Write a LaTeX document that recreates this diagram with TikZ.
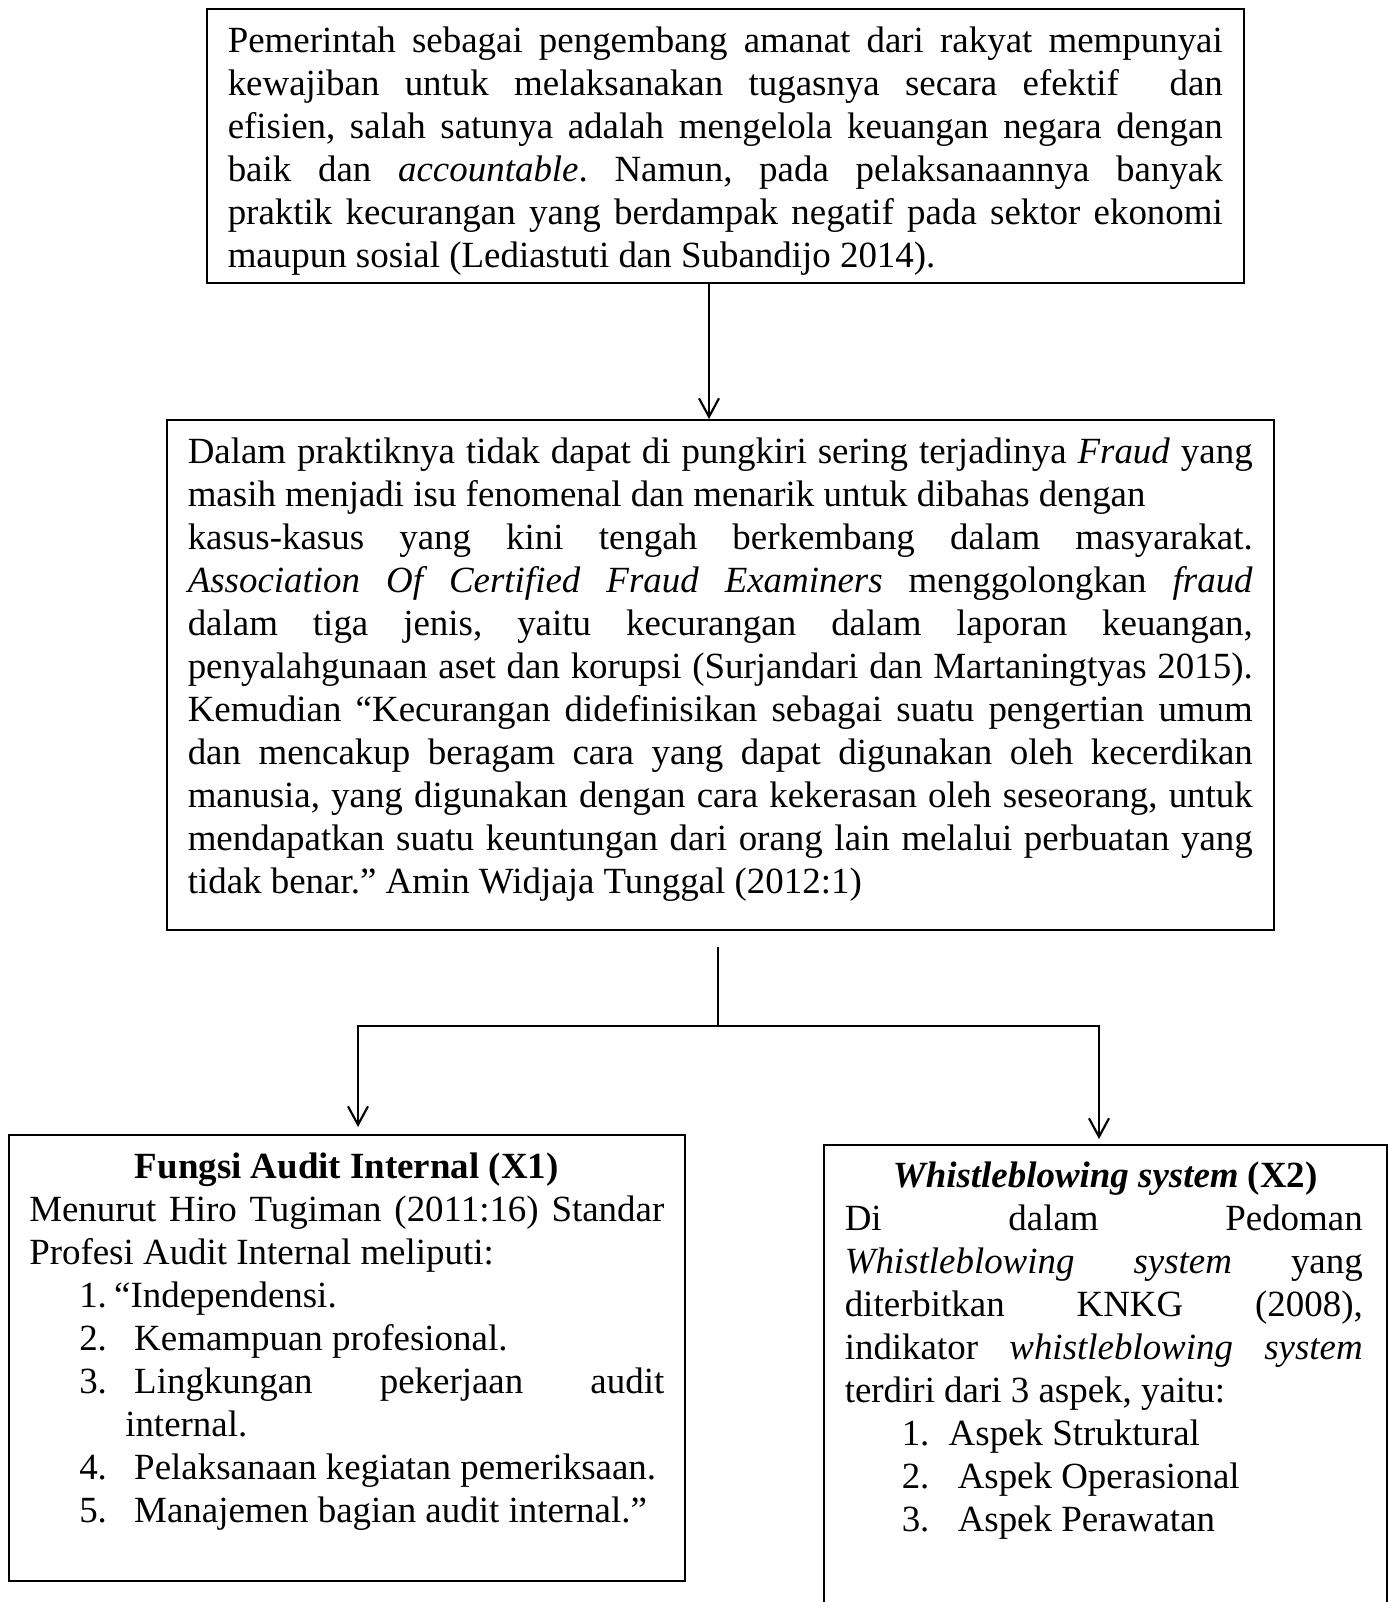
\documentclass[tikz,border=0pt]{standalone}
\usepackage{fontspec}
\setmainfont{Liberation Serif}
\usetikzlibrary{arrows.meta}
\newdimen\pxu \pxu=0.325pt
\tolerance=10000 \hbadness=10000 \hyphenpenalty=10000 \exhyphenpenalty=10000
\frenchspacing
\begin{document}
\begin{tikzpicture}[x=0.325pt, y=-0.325pt,
    box/.style={draw, line width=0.5pt, anchor=north west, inner xsep=21\pxu, inner ysep=0pt,
      align=justify, font=\fontsize{12}{13.95}\selectfont},
    conn/.style={line width=0.7pt},
    arr/.style={conn, -{Straight Barb[length=6pt, width=6.5pt]}}]
      \useasboundingbox (0,0) rectangle (1388,1602);
      \clip (0,0) rectangle (1388,1602);

      \node[box, text width=995\pxu, text height=44\pxu, text depth=230\pxu] (top) at (206,8)
        {Pemerintah sebagai pengembang amanat dari rakyat mempunyai\linebreak
         kewajiban untuk melaksanakan tugasnya secara efektif \ dan\linebreak
         efisien, salah satunya adalah mengelola keuangan negara dengan\linebreak
         baik dan \textit{accountable}. Namun, pada pelaksanaannya banyak\linebreak
         praktik kecurangan yang berdampak negatif pada sektor ekonomi\linebreak
         maupun sosial (Lediastuti dan Subandijo 2014).};

      \node[box, text width=1065\pxu, text height=44\pxu, text depth=466\pxu] (mid) at (166,419)
        {Dalam praktiknya tidak dapat di pungkiri sering terjadinya \textit{Fraud} yang\linebreak
         masih menjadi isu fenomenal dan menarik untuk dibahas dengan\newline
         kasus-kasus yang kini tengah berkembang dalam masyarakat.\linebreak
         \textit{Association Of Certified Fraud Examiners} menggolongkan \textit{fraud}\linebreak
         dalam tiga jenis, yaitu kecurangan dalam laporan keuangan,\linebreak
         penyalahgunaan aset dan korupsi (Surjandari dan Martaningtyas 2015).\linebreak
         Kemudian “Kecurangan didefinisikan sebagai suatu pengertian umum\linebreak
         dan mencakup beragam cara yang dapat digunakan oleh kecerdikan\linebreak
         manusia, yang digunakan dengan cara kekerasan oleh seseorang, untuk\linebreak
         mendapatkan suatu keuntungan dari orang lain melalui perbuatan yang\linebreak
         tidak benar.” Amin Widjaja Tunggal (2012:1)};

      \node[box, inner xsep=20.5\pxu, text width=635\pxu, text height=44\pxu, text depth=402\pxu] (left) at (8,1134)
        {{\centering\textbf{Fungsi Audit Internal (X1)}\par}
         Menurut Hiro Tugiman (2011:16) Standar\linebreak
         Profesi Audit Internal meliputi:\par
         \hspace*{50\pxu}\makebox[35\pxu][l]{1.}“Independensi.\par
         \hspace*{50\pxu}\makebox[55\pxu][l]{2.}Kemampuan profesional.\par
         \hangindent=96\pxu \hangafter=1
         \hspace*{50\pxu}\makebox[55\pxu][l]{3.}Lingkungan pekerjaan audit\linebreak
         internal.\par
         \hspace*{50\pxu}\makebox[55\pxu][l]{4.}Pelaksanaan kegiatan pemeriksaan.\par
         \hspace*{50\pxu}\makebox[55\pxu][l]{5.}Manajemen bagian audit internal.”};

      \node[box, text width=521\pxu, text height=43\pxu, text depth=480\pxu] (right) at (823,1144)
        {\rightskip=3\pxu
         {\centering\textbf{\textit{Whistleblowing system}} \textbf{(X2)}\par}
         Di dalam Pedoman\linebreak
         \textit{Whistleblowing system} yang\linebreak
         diterbitkan KNKG (2008),\linebreak
         indikator \textit{whistleblowing system}\linebreak
         terdiri dari 3 aspek, yaitu:\par
         \hspace*{57\pxu}\makebox[47\pxu][l]{1.}Aspek Struktural\par
         \hspace*{57\pxu}\makebox[56\pxu][l]{2.}Aspek Operasional\par
         \hspace*{57\pxu}\makebox[56\pxu][l]{3.}Aspek Perawatan};

      \coordinate (ax) at (709,0);
      \coordinate (jx) at (718,1026);
      \coordinate (lx) at (358,0);
      \coordinate (rx) at (1099,0);

      \draw[arr] (top.south -| ax) -- (mid.north -| ax);
      \draw[conn, shorten <=16\pxu] (mid.south -| jx) -- (jx);
      \draw[arr, shorten >=7\pxu] (jx) -| (left.north -| lx);
      \draw[arr, shorten >=5\pxu] (jx) -| (right.north -| rx);
    \end{tikzpicture}
\end{document}
